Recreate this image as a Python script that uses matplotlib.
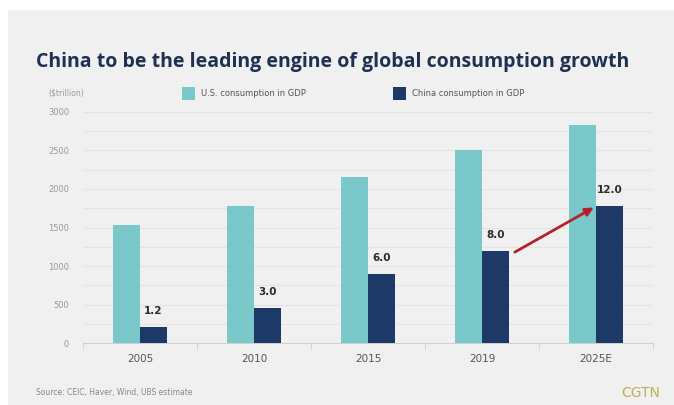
import numpy as np
import matplotlib.pyplot as plt
from matplotlib.patches import Rectangle

# values ($ trillion scale on axis is shown as 0-3000)
years = ['2005', '2010', '2015', '2019', '2025E']
us_consumption = [1530, 1780, 2150, 2500, 2830]
china_consumption = [210, 460, 900, 1200, 1780]
china_labels = ['1.2', '3.0', '6.0', '8.0', '12.0']

teal = '#7bc8ca'
navy = '#1d3968'
bg = '#f0f0f0'

fig = plt.figure(figsize=(6.74, 4.05), dpi=100)
fig.patch.set_facecolor('white')
# grey panel (the picture has a thin white border top/left)
fig.patches.append(Rectangle((8/674, 0), 1, 1 - 10/405, transform=fig.transFigure,
                             facecolor=bg, edgecolor='none', zorder=-10))

ax = fig.add_axes([0.123, 0.153, 0.846, 0.5705])
ax.set_facecolor(bg)
ax.patch.set_alpha(0)

x = np.arange(len(years))
w = 0.237
ax.bar(x - w/2, us_consumption, w, color=teal, zorder=3)
ax.bar(x + w/2, china_consumption, w, color=navy, zorder=3)

for i, lab in enumerate(china_labels):
    ax.text(x[i] + w/2, china_consumption[i] + 140, lab, ha='center', va='bottom',
            fontsize=7.5, fontweight='bold', color='#2b2b2b')

# red arrow 2019 -> 2025E
ax.annotate('', xy=(x[4] - 0.02, china_consumption[4] - 20),
            xytext=(x[3] + w + 0.05, china_consumption[3] - 20),
            arrowprops=dict(arrowstyle='-|>', color='#b3222b', lw=2,
                            mutation_scale=12, shrinkA=0, shrinkB=0), zorder=5)

ax.set_xlim(-0.5, 4.5)
ax.set_ylim(0, 3000)
ax.set_yticks(np.arange(0, 3001, 500))
ax.set_yticks(np.arange(0, 3001, 250), minor=True)
ax.grid(axis='y', which='both', color='#e4e4e4', lw=0.8, zorder=0)
ax.set_xticks(x)
ax.set_xticklabels(years)
ax.set_xticks(np.arange(-0.5, 4.6, 1), minor=True)
ax.tick_params(axis='x', which='major', length=0, pad=8, labelsize=7.5, labelcolor='#555555')
ax.tick_params(axis='x', which='minor', length=4, color='#cfcfcf')
ax.tick_params(axis='y', which='both', length=0, pad=10, labelsize=6, labelcolor='#999999')
for s in ['top', 'right', 'left']:
    ax.spines[s].set_visible(False)
ax.spines['bottom'].set_color('#cfcfcf')

fig.text(36/674, 1 - 62/405, 'China to be the leading engine of global consumption growth',
         fontsize=14, fontweight='bold', color='#1e3152', va='center', ha='left',
         family='Open Sans')
fig.text(48/674, 1 - 93/405, '($trillion)', fontsize=5.5, color='#999999', va='center')

fig.patches.append(Rectangle((182/674, 1 - 100/405), 13/674, 13/405,
                             transform=fig.transFigure, facecolor=teal, edgecolor='none'))
fig.text(201/674, 1 - 93/405, 'U.S. consumption in GDP', fontsize=6, color='#555555', va='center')
fig.patches.append(Rectangle((393/674, 1 - 100/405), 13/674, 13/405,
                             transform=fig.transFigure, facecolor=navy, edgecolor='none'))
fig.text(412/674, 1 - 93/405, 'China consumption in GDP', fontsize=6, color='#555555', va='center')

fig.text(36/674, 1 - 393/405, 'Source: CEIC, Haver, Wind, UBS estimate', fontsize=5.5,
         color='#888888', va='center')
fig.text(660/674, 1 - 393/405, 'CGTN', fontsize=10, color='#bfae55', va='center', ha='right')

fig.savefig('out.png', dpi=100)
